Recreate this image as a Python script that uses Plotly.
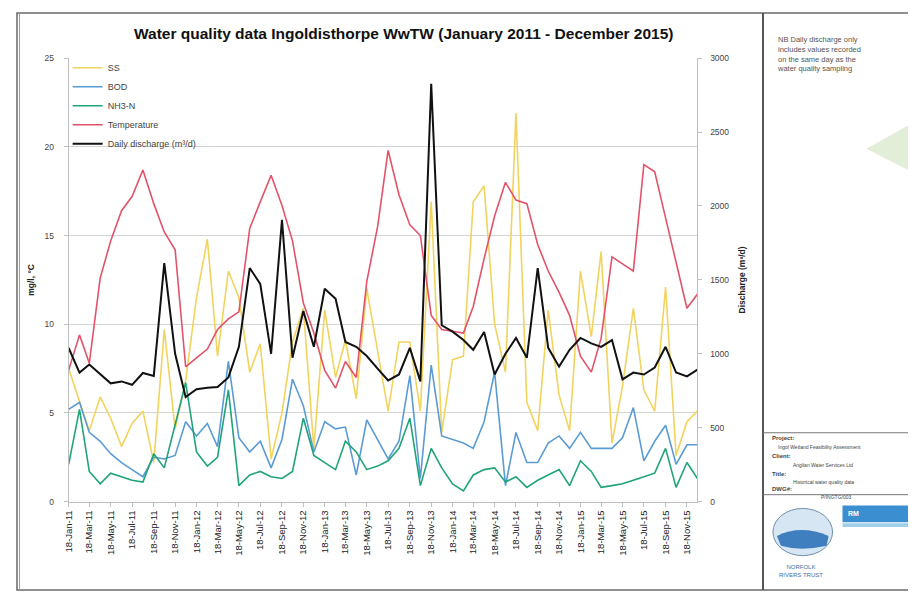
import plotly.graph_objects as go
import pandas as pd

# page body has an 8px margin, so the figure is sized/positioned to compensate
OFF = 8
W, H = 916 - OFF, 597 - OFF

# ---------------- data ----------------
sample_dates = pd.date_range("2011-01-18", periods=60, freq=pd.DateOffset(months=1))

ss = [7.5, 5.6, 4.0, 5.9, 4.7, 3.1, 4.4, 5.1, 2.2, 9.7, 4.1, 6.8,
      11.5, 14.8, 8.2, 13.0, 11.5, 7.3, 8.9, 2.4, 5.0, 9.0, 10.9, 3.0,
      10.8, 7.0, 9.1, 5.8, 12.0, 8.5, 5.1, 9.0, 9.0, 5.1, 16.9, 3.9,
      8.0, 8.2, 16.9, 17.8, 10.0, 7.3, 21.9, 5.6, 4.0, 10.8, 6.0, 4.0,
      13.0, 9.3, 14.1, 3.3, 6.5, 10.9, 6.3, 5.1, 12.1, 2.6, 4.5, 5.1]

bod = [5.2, 5.6, 3.9, 3.4, 2.7, 2.2, 1.8, 1.4, 2.5, 2.4, 2.6, 4.5,
       3.7, 4.4, 3.1, 7.9, 3.6, 2.8, 3.4, 1.9, 3.5, 6.9, 5.4, 2.8,
       4.5, 4.1, 4.2, 1.5, 4.6, 3.5, 2.4, 3.4, 7.1, 1.3, 7.7, 3.7,
       3.5, 3.3, 3.0, 4.5, 7.3, 0.9, 3.9, 2.2, 2.2, 3.3, 3.7, 3.0,
       3.9, 3.0, 3.0, 3.0, 3.6, 5.3, 2.3, 3.4, 4.3, 2.1, 3.2, 3.2]

nh3n = [2.1, 5.2, 1.7, 1.0, 1.6, 1.4, 1.2, 1.1, 2.7, 1.9, 4.3, 6.7,
        2.8, 2.0, 2.5, 6.3, 0.9, 1.5, 1.7, 1.4, 1.3, 1.7, 4.7, 2.6,
        2.2, 1.8, 3.4, 2.8, 1.8, 2.0, 2.3, 3.0, 4.7, 0.9, 3.0, 1.9,
        1.0, 0.6, 1.5, 1.8, 1.9, 1.1, 1.4, 0.8, 1.2, 1.5, 1.8, 0.9,
        2.3, 1.7, 0.8, 0.9, 1.0, 1.2, 1.4, 1.6, 3.0, 0.8, 2.2, 1.3]

temperature = [7.4, 9.4, 7.8, 12.6, 14.7, 16.4, 17.2, 18.7, 16.8, 15.2, 14.2, 7.6,
               8.1, 8.6, 9.7, 10.3, 10.7, 15.4, 16.9, 18.4, 16.7, 14.7, 11.2, 9.5,
               7.4, 6.4, 7.9, 7.0, 12.4, 15.5, 19.8, 17.3, 15.6, 15.0, 10.5, 9.7,
               9.6, 9.5, 11.0, 13.7, 16.1, 18.0, 17.0, 16.8, 14.5, 13.0, 11.8, 10.5,
               8.2, 7.3, 9.2, 13.8, 13.4, 13.0, 19.0, 18.6, 16.0, 13.4, 10.9, 11.7]

discharge = [1040, 873, 927, 860, 800, 813, 790, 870, 850, 1613, 1000, 707,
             760, 770, 775, 840, 1047, 1580, 1473, 1000, 1907, 973, 1290, 1047,
             1440, 1373, 1080, 1047, 985, 900, 820, 860, 1040, 813, 2827, 1193,
             1150, 1093, 1027, 1147, 860, 1000, 1107, 973, 1580, 1040, 913, 1027,
             1107, 1070, 1047, 1093, 827, 873, 860, 907, 1047, 873, 847, 893]

tick_dates = pd.date_range("2011-01-18", periods=30, freq=pd.DateOffset(months=2))
tick_labels = [d.strftime("%d-%b-%y") for d in tick_dates]

series_names = ["SS", "BOD", "NH3-N", "Temperature", "Daily discharge (m\u00b3/d)"]
series_colors = ["#F2D35E", "#5B9BD5", "#1FA37A", "#E2536A", "#111111"]


# ---------------- helpers: reference-pixel -> paper ----------------
def px(x):
    return (x - OFF) / W


def py(y):
    return 1 - (y - OFF) / H


font_family = "Liberation Sans, Arial, sans-serif"

fig = go.Figure()
left_series = [ss, bod, nh3n, temperature]
for vals, name, col in zip(left_series, series_names[:4], series_colors[:4]):
    fig.add_trace(go.Scatter(x=sample_dates, y=vals, mode="lines", name=name,
                             line=dict(color=col, width=1.6), yaxis="y"))
fig.add_trace(go.Scatter(x=sample_dates, y=discharge, mode="lines", name=series_names[4],
                         line=dict(color=series_colors[4], width=2), yaxis="y2"))

shapes = []
# outer sheet frame
shapes.append(dict(type="rect", xref="paper", yref="paper", x0=px(11), x1=px(915), y0=py(595), y1=py(8),
                   line=dict(color="#6a6a6a", width=1.5)))
shapes.append(dict(type="line", xref="paper", yref="paper", x0=px(13.5), x1=px(13.5), y0=py(595), y1=py(8),
                   line=dict(color="#9a9a9a", width=1)))
# side panel divider
shapes.append(dict(type="line", xref="paper", yref="paper", x0=px(762), x1=px(762), y0=py(595), y1=py(8),
                   line=dict(color="#555", width=2)))
shapes.append(dict(type="line", xref="paper", yref="paper", x0=px(762), x1=px(916), y0=py(435), y1=py(435),
                   line=dict(color="#777", width=1)))
shapes.append(dict(type="line", xref="paper", yref="paper", x0=px(762), x1=px(916), y0=py(498), y1=py(498),
                   line=dict(color="#777", width=1)))
# green arrow triangle
shapes.append(dict(type="path", xref="paper", yref="paper",
                   path=f"M {px(866)} {py(146)} L {px(916)} {py(118)} L {px(916)} {py(172)} Z",
                   fillcolor="#E3EED8", line=dict(width=0)))
# logos (simplified)
shapes.append(dict(type="circle", xref="paper", yref="paper", x0=px(772), x1=px(832), y0=py(560), y1=py(512),
                   fillcolor="#D6E6F2", line=dict(color="#6f8fb0", width=1)))
shapes.append(dict(type="path", xref="paper", yref="paper",
                   path=f"M {px(776)} {py(540)} Q {px(800)} {py(528)} {px(828)} {py(540)} L {px(826)} {py(550)} Q {px(800)} {py(556)} {px(780)} {py(550)} Z",
                   fillcolor="#3F7FBF", line=dict(width=0)))
shapes.append(dict(type="rect", xref="paper", yref="paper", x0=px(842), x1=px(912), y0=py(526), y1=py(509),
                   fillcolor="#3B8FD0", line=dict(width=0)))
shapes.append(dict(type="rect", xref="paper", yref="paper", x0=px(842), x1=px(912), y0=py(531), y1=py(527),
                   fillcolor="#9FD0E8", line=dict(width=0)))

annotations = []
annotations.append(dict(xref="paper", yref="paper", x=px(400), y=py(29),
                        text="<b>Water quality data Ingoldisthorpe WwTW (January 2011 - December 2015)</b>",
                        showarrow=False, font=dict(size=15.5, color="#111", family=font_family),
                        xanchor="center", yanchor="middle"))
annotations.append(dict(xref="paper", yref="paper", x=px(774), y=py(28),
                        text="NB Daily discharge only<br>includes values recorded<br>on the same day as the<br>water quality sampling",
                        showarrow=False, align="left", xanchor="left", yanchor="top",
                        font=dict(size=7.5, color="#555", family=font_family)))
tb = [("<b>Project:</b>", 769, 440, 6), ("Ingol Wetland Feasibility Assessment", 775, 450, 5),
      ("<b>Client:</b>", 769, 459, 6), ("Anglian Water Services Ltd", 790, 468, 5),
      ("<b>Title:</b>", 769, 477, 6), ("Historical water quality data", 790, 485, 5),
      ("<b>DWG#:</b>", 769, 492, 6), ("P/INGTG/003", 818, 500, 5)]
for txt, x, y, s in tb:
    annotations.append(dict(xref="paper", yref="paper", x=px(x), y=py(y), text=txt, showarrow=False,
                            xanchor="left", yanchor="middle", font=dict(size=s, color="#444", family=font_family)))
annotations.append(dict(xref="paper", yref="paper", x=px(846), y=py(517), text="<b>RM</b>", showarrow=False,
                        xanchor="left", yanchor="middle", font=dict(size=7, color="white", family=font_family)))
annotations.append(dict(xref="paper", yref="paper", x=px(800), y=py(576), text="NORFOLK<br>RIVERS TRUST",
                        showarrow=False, xanchor="center", yanchor="middle",
                        font=dict(size=6, color="#3F6F9F", family=font_family)))

axis_font = dict(size=8.5, color="#444", family=font_family)

fig.update_layout(
    width=W, height=H, autosize=False,
    margin=dict(l=0, r=0, t=0, b=0),
    paper_bgcolor="white", plot_bgcolor="white",
    font=dict(family=font_family, color="#333"),
    showlegend=True,
    legend=dict(x=px(62), y=py(49), xanchor="left", yanchor="top",
                bgcolor="rgba(255,255,255,0)", font=dict(size=9, color="#444", family=font_family),
                itemwidth=30, tracegroupgap=0),
    xaxis=dict(domain=[px(63), px(696)], type="date",
               range=[sample_dates[0], sample_dates[-1]],
               tickvals=list(tick_dates), ticktext=tick_labels, tickangle=-90,
               tickfont=dict(size=9.5, color="#222", family=font_family),
               showgrid=False, showline=True, linecolor="#bfbfbf", linewidth=1,
               ticks="outside", ticklen=4, tickcolor="#bfbfbf", zeroline=False),
    yaxis=dict(domain=[py(505), py(54)], range=[0, 25], tickvals=[0, 5, 10, 15, 20, 25],
               tickfont=axis_font, showgrid=True, gridcolor="#d4d4d4", gridwidth=1,
               showline=True, linecolor="#bfbfbf", linewidth=1, ticks="outside", ticklen=4,
               tickcolor="#bfbfbf", zeroline=False, ticklabelstandoff=8,
               title=dict(text="<b>mg/l, \u00b0C</b>", font=dict(size=8.5, color="#222", family=font_family),
                          standoff=8)),
    yaxis2=dict(overlaying="y", side="right", range=[0, 3000],
                tickvals=[0, 500, 1000, 1500, 2000, 2500, 3000],
                tickfont=axis_font, showgrid=False, showline=True, linecolor="#bfbfbf", linewidth=1,
                ticks="outside", ticklen=4, tickcolor="#bfbfbf", zeroline=False, ticklabelstandoff=6,
                title=dict(text="<b>Discharge (m\u00b3/d)</b>", font=dict(size=8.5, color="#222", family=font_family),
                           standoff=10)),
    shapes=shapes, annotations=annotations,
)

fig.write_html("out.html")
